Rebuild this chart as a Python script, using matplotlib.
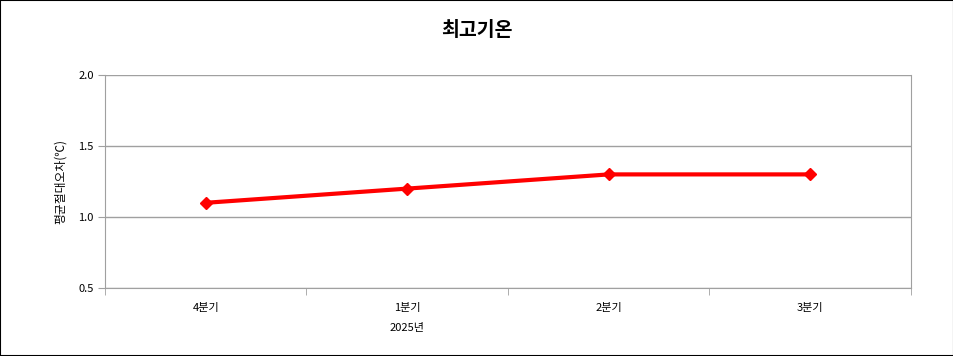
import matplotlib
matplotlib.use("Agg")
import matplotlib.pyplot as plt
from matplotlib.patches import Rectangle

plt.rcParams['font.family'] = ['Noto Sans CJK KR', 'DejaVu Sans']

quarters = ['4분기', '1분기', '2분기', '3분기']
mae = [1.1, 1.2, 1.3, 1.3]
year_label = '2025년'
title = '최고기온'
ylabel = '평균절대오차(℃)'

fig = plt.figure(figsize=(9.54, 3.56), dpi=100)
ax = fig.add_axes([105/954, 1-288/356, (911-105)/954, (288-75)/356])

x = list(range(len(quarters)))
ax.plot(x, mae, color='#ff0000', lw=3, marker='D', ms=6.5, zorder=3)

ax.set_xlim(-0.5, len(quarters) - 0.5)
ax.set_ylim(0.5, 2.0)
ax.set_yticks([0.5, 1.0, 1.5, 2.0])
ax.set_yticklabels(['0.5', '1.0', '1.5', '2.0'], fontsize=8)
ax.yaxis.grid(True, color='#a0a0a0', lw=1)
ax.set_axisbelow(True)

# category labels without ticks, ticks at band boundaries
ax.set_xticks(x)
ax.set_xticklabels(quarters, fontsize=8)
ax.tick_params(axis='x', which='major', length=0, pad=11)
ax.set_xticks([i - 0.5 for i in range(len(quarters) + 1)], minor=True)
ax.tick_params(axis='x', which='minor', length=5, color='#a0a0a0', direction='out')
ax.tick_params(axis='y', length=5, color='#a0a0a0', pad=3)

for s in ['left', 'right', 'bottom']:
    ax.spines[s].set_color('#a0a0a0')
ax.spines['top'].set_visible(False)

ax.text(1, -40/213, year_label, transform=ax.get_xaxis_transform(),
        ha='center', va='center', fontsize=8)

ax.set_ylabel(ylabel, fontsize=8.5, labelpad=8)
fig.text(0.5, 1-30/356, title, ha='center', va='center', fontsize=14, fontweight='bold')

fig.patches.append(Rectangle((0, 0), 1, 1, transform=fig.transFigure,
                             fill=False, edgecolor='black', lw=1.5))

fig.savefig('out.png', dpi=100)
